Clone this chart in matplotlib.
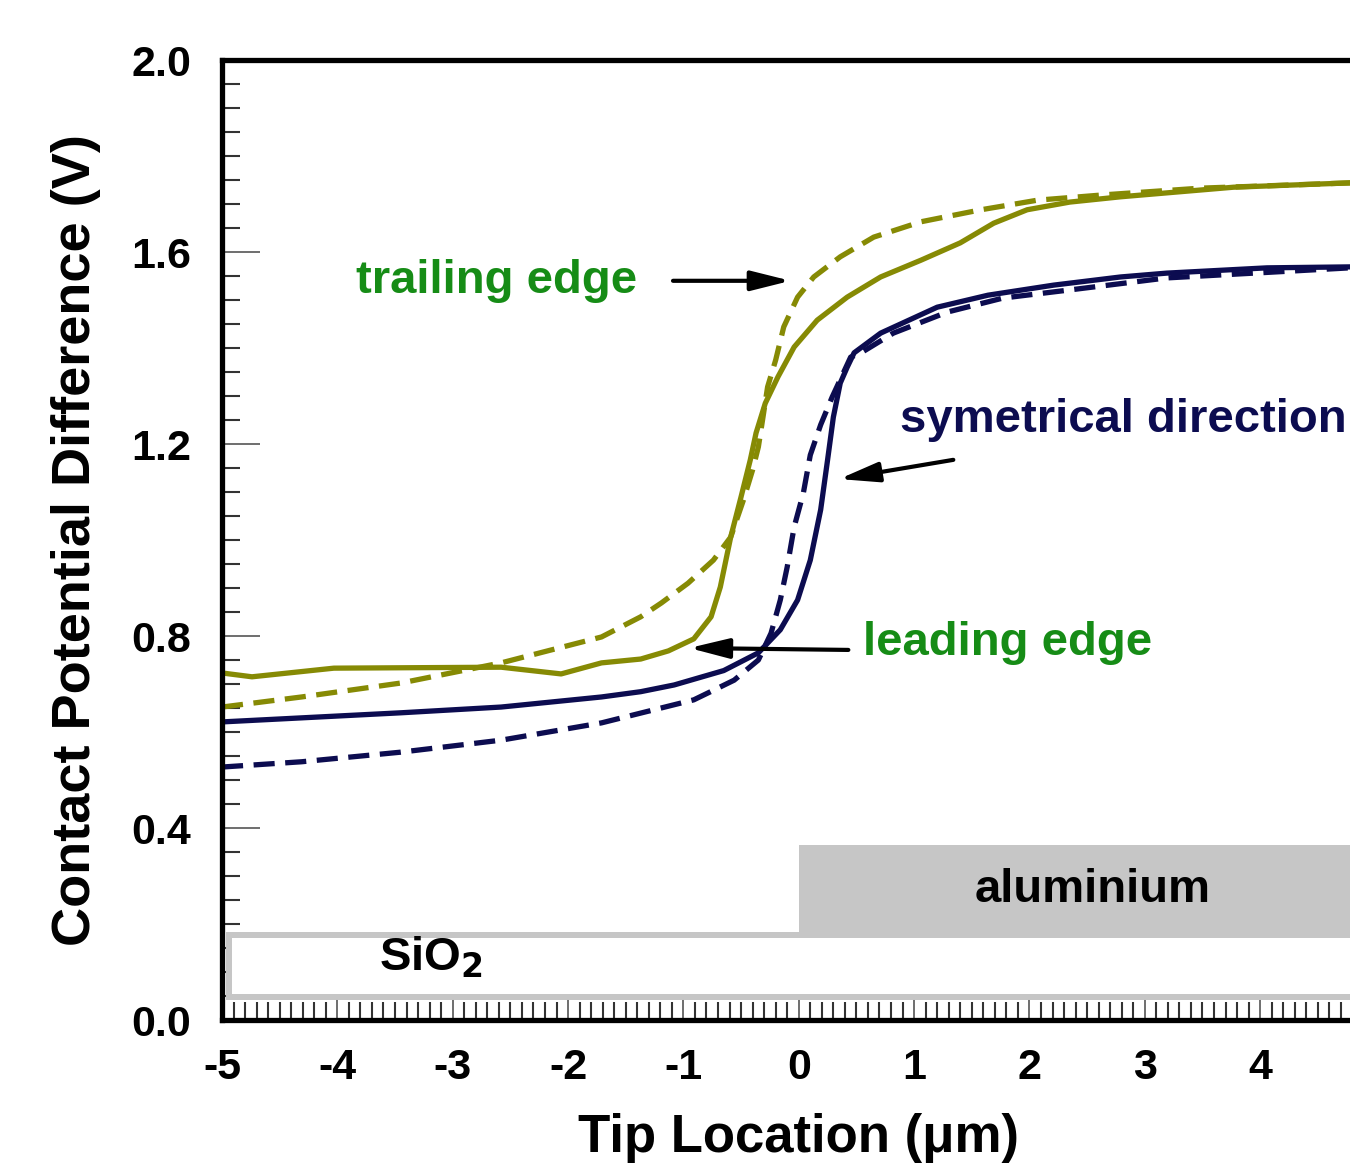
import matplotlib
matplotlib.use('Agg')
import matplotlib.pyplot as plt
from matplotlib.patches import Rectangle
from matplotlib.ticker import MultipleLocator

plt.rcParams['font.family'] = ['Liberation Sans', 'DejaVu Sans']
plt.rcParams['font.weight'] = 'bold'
plt.rcParams['axes.unicode_minus'] = False

# trailing edge, dashed olive
trail_dash_x = [-5.0, -4.31, -3.45, -2.58, -1.71, -1.37, -1.19, -0.96, -0.74, -0.59, -0.48,
                -0.40, -0.35, -0.31, -0.27, -0.20, -0.13, -0.01, 0.13, 0.36, 0.65, 1.06,
                1.58, 2.07, 2.64, 3.48, 4.78, 5.0]
trail_dash_y = [0.652, 0.673, 0.702, 0.744, 0.798, 0.840, 0.869, 0.910, 0.958, 1.006, 1.083,
                1.146, 1.194, 1.256, 1.319, 1.375, 1.444, 1.506, 1.548, 1.590, 1.631, 1.663,
                1.688, 1.708, 1.719, 1.733, 1.744, 1.746]

# trailing edge, solid olive
trail_solid_x = [-5.0, -4.74, -4.03, -2.58, -2.06, -1.71, -1.37, -1.13, -0.91, -0.76, -0.68,
                 -0.59, -0.50, -0.42, -0.37, -0.29, -0.18, -0.04, 0.16, 0.42, 0.71, 1.06,
                 1.40, 1.69, 1.98, 2.35, 2.79, 3.77, 4.78, 5.0]
trail_solid_y = [0.723, 0.715, 0.733, 0.735, 0.721, 0.744, 0.752, 0.769, 0.794, 0.840, 0.902,
                 1.006, 1.090, 1.167, 1.223, 1.285, 1.340, 1.402, 1.458, 1.506, 1.548, 1.583,
                 1.619, 1.660, 1.688, 1.704, 1.715, 1.735, 1.744, 1.746]

# symmetrical direction, solid navy
sym_solid_x = [-5.0, -3.45, -2.58, -1.71, -1.37, -1.08, -0.65, -0.35, -0.16, -0.01, 0.10,
               0.19, 0.25, 0.30, 0.36, 0.42, 0.48, 0.71, 1.20, 1.64, 2.21, 2.79, 3.19,
               4.06, 4.78, 5.0]
sym_solid_y = [0.621, 0.640, 0.652, 0.673, 0.684, 0.698, 0.728, 0.765, 0.813, 0.875, 0.958,
               1.063, 1.167, 1.256, 1.327, 1.360, 1.390, 1.431, 1.485, 1.510, 1.531, 1.548, 1.556,
               1.567, 1.569, 1.570]

# symmetrical direction, dashed navy
sym_dash_x = [-5.0, -4.31, -3.45, -2.58, -1.71, -0.91, -0.79, -0.56, -0.35, -0.24, -0.16,
              -0.10, -0.04, 0.04, 0.10, 0.19, 0.29, 0.45, 0.54, 0.82, 1.29, 1.77, 2.35,
              3.19, 4.78, 5.0]
sym_dash_y = [0.527, 0.538, 0.558, 0.583, 0.619, 0.667, 0.681, 0.708, 0.750, 0.806, 0.875,
              0.944, 1.027, 1.098, 1.177, 1.240, 1.298, 1.381, 1.390, 1.431, 1.475, 1.504, 1.521,
              1.546, 1.567, 1.568]

olive = '#868A04'
navy = '#0C0C50'
green = '#168C16'
gray = '#C6C6C6'

fig = plt.figure(figsize=(13.5, 11.7), dpi=100)
ax = fig.add_axes([222 / 1350, 150 / 1170, 1153.5 / 1350, 960 / 1170])

# substrate layers
ax.add_patch(Rectangle((-4.94, 0.048), 10.5, 0.129, facecolor='white', edgecolor=gray,
                       lw=4.3, zorder=3))
ax.add_patch(Rectangle((0, 0.171), 6, 0.194, facecolor=gray, edgecolor='none', zorder=3))
ax.text(-3.19, 0.129, 'SiO$_\\mathbf{2}$', fontsize=34, ha='center', va='center', zorder=4)
ax.text(2.55, 0.271, 'aluminium', fontsize=34, ha='center', va='center', zorder=4)

ax.plot(trail_dash_x, trail_dash_y, color=olive, lw=3.8, ls=(0, (4, 2)))
ax.plot(trail_solid_x, trail_solid_y, color=olive, lw=3.8)
ax.plot(sym_dash_x, sym_dash_y, color=navy, lw=3.8, ls=(0, (4, 2)))
ax.plot(sym_solid_x, sym_solid_y, color=navy, lw=3.8)

# annotations
arrow = dict(arrowstyle='-|>,head_length=2.4,head_width=0.6', color='black', lw=3,
             shrinkA=0, shrinkB=0)
ax.annotate('', xy=(-0.07, 1.54), xytext=(-1.09, 1.54), arrowprops=arrow)
ax.annotate('', xy=(0.35, 1.127), xytext=(1.34, 1.167), arrowprops=arrow)
ax.annotate('', xy=(-0.95, 0.775), xytext=(0.43, 0.771), arrowprops=arrow)
ax.text(-3.84, 1.54, 'trailing edge', fontsize=34, color=green, va='center')
ax.text(0.56, 0.785, 'leading edge', fontsize=34, color=green, va='center')
ax.text(0.88, 1.25, 'symetrical direction', fontsize=34, color=navy, va='center')

ax.set_xlim(-5, 5)
ax.set_ylim(0, 2.0)
ax.xaxis.set_minor_locator(MultipleLocator(0.1))
ax.yaxis.set_minor_locator(MultipleLocator(0.05))
ax.set_xticks([-5, -4, -3, -2, -1, 0, 1, 2, 3, 4])
ax.set_yticks([0.0, 0.4, 0.8, 1.2, 1.6, 2.0])
ax.set_yticklabels(['0.0', '0.4', '0.8', '1.2', '1.6', '2.0'])
ax.tick_params(which='major', direction='in', length=27, width=1.2, color='#555555',
               labelsize=31)
ax.tick_params(which='minor', direction='in', length=13, width=1.5, color='#333333')
ax.tick_params(axis='y', pad=22)
ax.tick_params(axis='x', pad=20)
for s in ['left', 'top', 'bottom']:
    ax.spines[s].set_linewidth(3.8)
ax.spines['right'].set_visible(False)

ax.set_xlabel('Tip Location (μm)', fontsize=38, fontweight='bold', labelpad=18)
ax.set_ylabel('Contact Potential Difference (V)', fontsize=39, fontweight='bold', labelpad=22)

fig.savefig('out.png', dpi=100)
